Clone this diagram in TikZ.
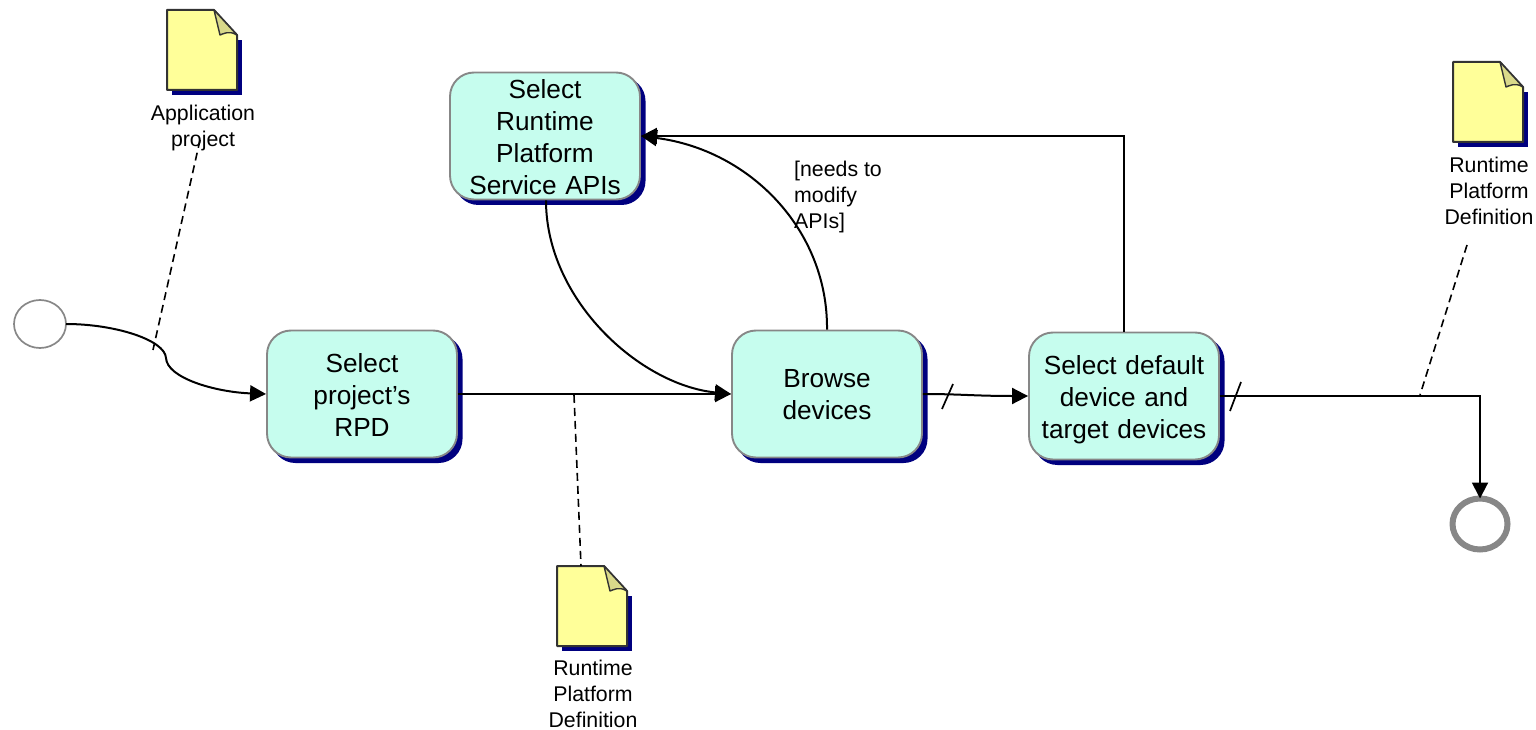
\documentclass[tikz,border=0pt]{standalone}
\usepackage{fontspec}
\setmainfont{Liberation Sans}
\usetikzlibrary{arrows.meta,shapes.geometric}
\definecolor{boxfill}{HTML}{C6FDEE}
\definecolor{edgegray}{HTML}{878787}
\definecolor{shadownavy}{HTML}{00007F}
\definecolor{notefill}{HTML}{FFFF99}
\definecolor{foldfill}{HTML}{D9D98A}
\definecolor{noteedge}{HTML}{333333}
\newcommand{\firstline}[1]{\rule{0pt}{#1pt}}
\tikzset{
  taskbox/.style={rectangle,rounded corners=24pt,draw=edgegray,line width=1.9pt,fill=boxfill,
    minimum width=190pt,minimum height=127pt,inner sep=0pt,align=center,text width=180pt,
    font=\fontsize{26.2}{32}\selectfont},
  taskshadow/.style={rectangle,rounded corners=24pt,fill=shadownavy,
    minimum width=191pt,minimum height=128pt,inner sep=0pt},
  startev/.style={ellipse,draw=edgegray,line width=1.7pt,fill=white,minimum width=52pt,minimum height=48pt,inner sep=0pt,outer sep=0pt},
  endev/.style={ellipse,draw=edgegray,line width=6pt,fill=white,minimum width=55pt,minimum height=51pt,inner sep=0pt,outer sep=0pt},
  flow/.style={line width=2pt,-{Triangle[length=16pt,width=16pt]}},
  assoc/.style={line width=1.6pt,dash pattern=on 8pt off 5pt},
  tick/.style={line width=1.7pt},
  small/.style={align=center,inner sep=0pt,font=\fontsize{21.3}{26}\selectfont},
  notetext/.style={align=left,inner sep=0pt,font=\fontsize{21.3}{26}\selectfont},
  note/.pic={
    \fill[shadownavy] (5,30) -- (75,30) -- (75,85) -- (5,85) -- cycle;
    \draw[noteedge,line width=2pt,fill=notefill,line join=round] (0,0) -- (47,0) -- (70,25) -- (70,80) -- (0,80) -- cycle;
    \draw[noteedge,line width=1.4pt,fill=foldfill,line join=round] (47,0) -- (70,25) .. controls (62,20) and (56,24) .. (53,25) -- cycle;
  }
}
\begin{document}
\begin{tikzpicture}[x=1pt,y=-1pt]
\useasboundingbox (0,0) rectangle (1536,730);
\node[taskshadow] (apis) at (550,141) {};
\node[taskshadow] (rpds) at (367,399) {};
\node[taskshadow] (browses) at (832,399) {};
\node[taskshadow] (defs) at (1129,401) {};

\node[taskbox] (api) at (545,136) {\firstline{20.8}Select\\Runtime\\Platform\\Service APIs};
\node[taskbox] (rpd) at (362,394) {\firstline{20.8}Select\\project’s\\RPD};
\node[taskbox] (browse) at (827,394) {\firstline{18.8}Browse\\devices};
\node[taskbox] (def) at (1124,396) {\firstline{26.8}Select default\\device and\\target devices};

\node[startev] (start) at (40,324) {};
\node[endev] (end) at (1480,524) {};

% notes
\pic at (167,10) {note};
\pic at (1453,62) {note};
\pic at (557,566) {note};
\node[small] (lab1) at (203,128) {Application\\project};
\node[small] (lab2) at (1489,191) {Runtime\\Platform\\Definition};
\node[small] (lab3) at (593,694) {Runtime\\Platform\\Definition};
\node[notetext,anchor=north west] (guard) at (794,161) {[needs to\\modify\\APIs]};

% associations
\coordinate (a1) at (200,140);
\coordinate (a1e) at (153,350);
\coordinate (a2) at (1467,245);
\coordinate (a2e) at (1420,395);
\coordinate (a3) at (574,395);
\coordinate (a3e) at (581,566);
\draw[assoc] (a1) -- (a1e);
\draw[assoc] (a2) -- (a2e);
\draw[assoc] (a3) -- (a3e);

% connectors
\draw[flow] (start.east) .. controls (115,324) and (165,340) .. (166,358) .. controls (167,378) and (215,392) .. (rpd.west);
\draw[flow] (rpd.east) -- (browse.west);
\draw[flow] (api.south) ++(1,0) .. controls (546,300) and (640,385) .. (browse.west);
\draw[flow] (browse.north) .. controls (828,230) and (750,150) .. (api.east);
\draw[flow] (def.north) -- (1124,136) -- (api.east);
\draw[flow] (browse.east) .. controls (960,394) and (975,396) .. (def.west);
\draw[flow] (def.east) -- (1480,396) -- (end.north);

% ticks
\draw[tick] (942,409) -- (953,384);
\draw[tick] (1230,411) -- (1241,382);
\end{tikzpicture}
\end{document}
